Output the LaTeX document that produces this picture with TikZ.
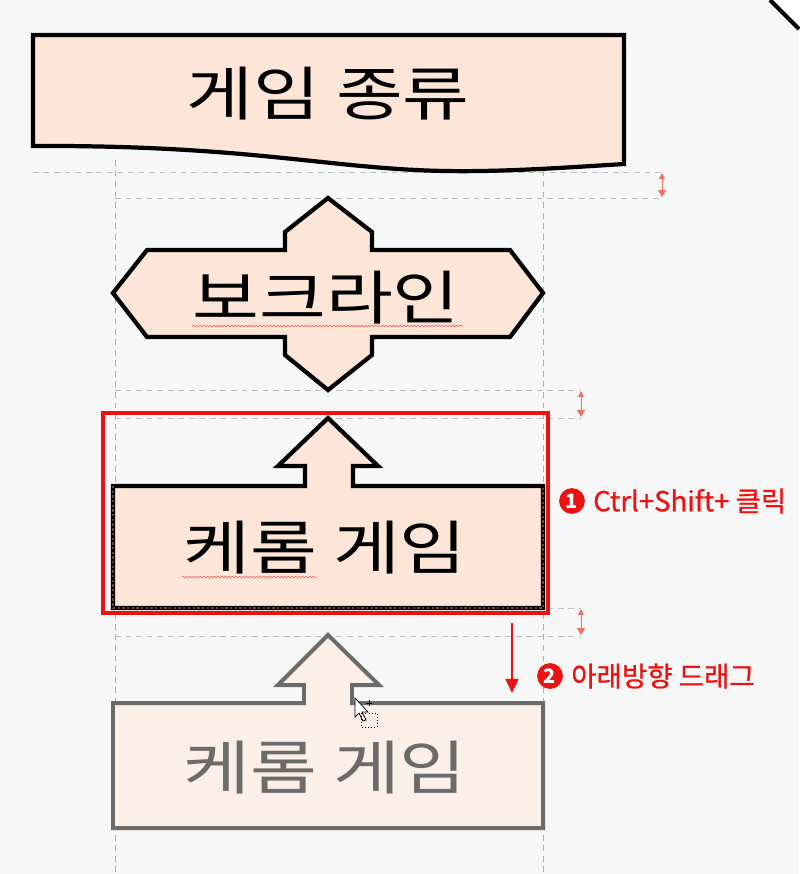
\documentclass[tikz,border=0pt]{standalone}
\usepackage{fontspec}
\setmainfont{Noto Sans CJK KR}
\newfontfamily\widekr{Noto Sans CJK KR}[FakeStretch=1.24]
\newfontfamily\hintkr{Noto Sans CJK KR}[FakeBold=0.8]
\usetikzlibrary{arrows.meta, decorations.pathmorphing}
\definecolor{canvas}{HTML}{F7F7F7}
\definecolor{shapefill}{HTML}{FDE6D7}
\definecolor{ghostfill}{HTML}{FCEFE7}
\definecolor{ghostline}{HTML}{6B6B6B}
\definecolor{guidegray}{HTML}{BDBDBD}
\definecolor{guidepink}{HTML}{E39A86}
\definecolor{gapred}{HTML}{EA7565}
\definecolor{markred}{HTML}{EE1111}
\definecolor{selbrown}{HTML}{7A3B30}
\tikzstyle{block} = [
    draw=black,
    line width=3.6pt,
    fill=shapefill
]
\tikzstyle{ghost} = [
    draw=ghostline,
    line width=3.4pt,
    fill=ghostfill
]
\tikzstyle{title} = [
    inner sep=0pt,
    font=\widekr\fontsize{50}{56}\selectfont
]
\tikzstyle{guideh} = [guidegray, line width=0.8pt, dash pattern=on 5pt off 4pt]
\tikzstyle{guidev} = [guidepink, line width=0.8pt, dash pattern=on 5pt off 4pt]
\tikzstyle{gap} = [gapred, line width=0.8pt,
    {Triangle[length=5pt,width=5pt]}-{Triangle[length=6pt,width=7pt]}]
\tikzstyle{squiggle} = [red!65, line width=0.5pt, decorate,
    decoration={snake, amplitude=0.7pt, segment length=3pt}]
\tikzstyle{hint} = [
    anchor=west,
    inner sep=0pt,
    text=markred,
    font=\hintkr\fontsize{23.5}{26}\selectfont
]
\tikzstyle{badge} = [
    circle,
    fill=markred,
    text=white,
    minimum size=22pt,
    inner sep=0pt,
    font=\bfseries\fontsize{17}{17}\selectfont
]
\tikzstyle{arrow} = [markred, line width=2.4pt, -{Triangle[length=12pt,width=11pt]}]

\begin{document}
\begin{tikzpicture}[x=0.03cm, y=-0.03cm]

\fill[canvas] (0,0) rectangle (799,874);
\useasboundingbox (0,0) rectangle (799,874);

\fill[white] (770,0) -- (799,0) -- (799,29) -- cycle;
\draw[line width=3.4pt] (770,0) -- (799,29);

% guides
\draw[guidev] (115,160) -- (115,874);
\draw[guidev] (543,160) -- (543,874);
\draw[guideh] (33,172) -- (662,172);
\draw[guideh] (115,198) -- (662,198);
\draw[guideh] (115,390) -- (581,390);
\draw[guideh] (115,418) -- (581,418);
\draw[guideh] (115,608) -- (581,608);
\draw[guideh] (115,636) -- (581,636);

\coordinate (gap1top) at (662,173);
\coordinate (gap1bot) at (662,197);
\coordinate (gap2top) at (581,391);
\coordinate (gap2bot) at (581,417);
\coordinate (gap3top) at (581,609);
\coordinate (gap3bot) at (581,635);
\draw[gap] (gap1top) -- (gap1bot);
\draw[gap] (gap2top) -- (gap2bot);
\draw[gap] (gap3top) -- (gap3bot);

% shapes
\draw[block] (33,35) -- (624,35) -- (624,164)
    .. controls (560,168) and (500,172) .. (445,171)
    .. controls (330,169) and (250,145) .. (33,146) -- cycle;

\draw[block] (328,198) -- (372,232) -- (372,250) -- (510,250) -- (543,293)
    -- (510,337) -- (372,337) -- (372,355) -- (328,390) -- (285,355)
    -- (285,337) -- (147,337) -- (113,293) -- (147,250) -- (285,250)
    -- (285,232) -- cycle;

\draw[block] (328,418) -- (378,466) -- (353,466) -- (353,486) -- (543,486)
    -- (543,608) -- (113,608) -- (113,486) -- (305,486) -- (305,466)
    -- (278,466) -- cycle;
\draw[selbrown, line width=1pt, dash pattern=on 2pt off 2pt]
    (113,486) -- (113,608) -- (543,608) -- (543,486);

\draw[ghost] (328,635) -- (379,685) -- (352,685) -- (352,703) -- (543,703)
    -- (543,828) -- (113,828) -- (113,703) -- (304,703) -- (304,685)
    -- (278,685) -- cycle;

\node (kind) [title] at (328,94) {게임 종류};
\node (bok) [title] at (326,298) {보크라인};
\node (carom) [title] at (325,548) {케롬 게임};
\node (copy) [title, text=ghostline] at (325,768) {케롬 게임};

\draw[squiggle] (192,326) -- (463,326);
\draw[squiggle] (182,577) -- (317,577);

\draw[markred, line width=2.6pt] (103,413) rectangle (548,613);

% cursor
\draw[fill=white, line width=0.6pt] (355,698) -- (355,717) -- (359,713)
    -- (363,721) -- (366,720) -- (362,712) -- (368,712) -- cycle;
\draw[line width=0.7pt] (366,703) -- (372,703) (369,700) -- (369,706);
\draw[line width=0.6pt, dotted] (361,713) rectangle (377,727);

% steps
\node (one) [badge] at (572,501) {1};
\node (onetext) [hint] at (593,501) {Ctrl+Shift+ 클릭};
\node (two) [badge] at (550,676) {2};
\node (twotext) [hint] at (571,676) {아래방향 드래그};

\coordinate (dragtop) at (512,623);
\coordinate (dragend) at (512,693);
\draw[arrow] (dragtop) -- (dragend);

\end{tikzpicture}
\end{document}
